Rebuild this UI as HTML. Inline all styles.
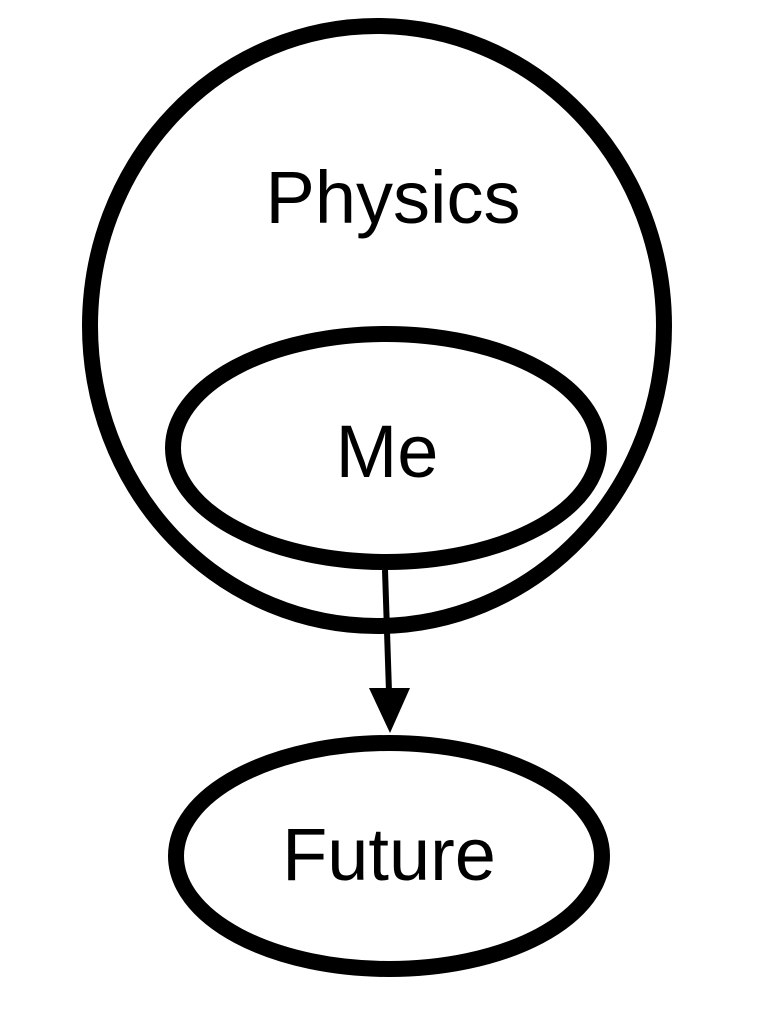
<!DOCTYPE html>
<html><head><style>html,body{margin:0;padding:0;background:#fff;}</style></head>
<body>
<svg width="768" height="1013" viewBox="0 0 768 1013" xmlns="http://www.w3.org/2000/svg" font-family="Liberation Sans, sans-serif">
<ellipse cx="377" cy="326" rx="287" ry="300" fill="none" stroke="#000" stroke-width="16"/>
<ellipse cx="386" cy="448" rx="213" ry="114" fill="none" stroke="#000" stroke-width="16"/>
<ellipse cx="389" cy="856" rx="213" ry="113" fill="none" stroke="#000" stroke-width="16"/>
<line x1="385" y1="570" x2="389" y2="692" stroke="#000" stroke-width="6"/>
<polygon points="369,688 410,688 390,733" fill="#000"/>
<text x="393" y="223" font-size="74" text-anchor="middle">Physics</text>
<text x="387" y="477" font-size="74" text-anchor="middle">Me</text>
<text x="389" y="880" font-size="74" text-anchor="middle">Future</text>
</svg>
</body></html>
